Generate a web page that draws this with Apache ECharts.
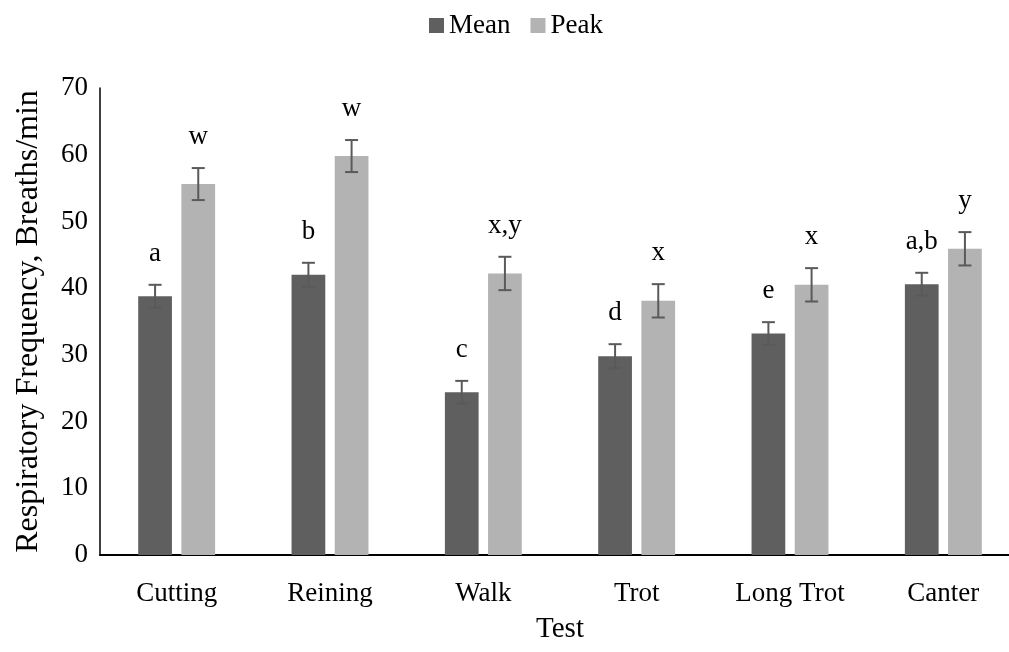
<!DOCTYPE html>
<html>
<head>
<meta charset="utf-8">
<script src="https://cdn.jsdelivr.net/npm/echarts@6/dist/echarts.min.js"></script>
<style>
html,body{margin:0;padding:0;background:#fff;}
#chart{width:1009px;height:652px;}
</style>
</head>
<body>
<div id="chart"></div>
<script>
const categories = ['Cutting', 'Reining', 'Walk', 'Trot', 'Long Trot', 'Canter'];
const meanValues = [38.8, 42.0, 24.4, 29.8, 33.2, 40.6];
const peakValues = [55.6, 59.8, 42.2, 38.1, 40.5, 45.9];
const meanErrors = [1.7, 1.8, 1.7, 1.8, 1.7, 1.7];
const peakErrors = [2.4, 2.4, 2.5, 2.5, 2.5, 2.5];
const meanLetters = ['a', 'b', 'c', 'd', 'e', 'a,b'];
const peakLetters = ['w', 'w', 'x,y', 'x', 'x', 'y'];
const yTicks = [0, 10, 20, 30, 40, 50, 60, 70];

const FONT = '"Liberation Serif", "Times New Roman", serif';
const MEAN_COLOR = '#5f5f5f';
const PEAK_COLOR = '#b3b3b3';
const BAR_W = 0.22, BAR_GAP = 0.28;

function errSeries(values, errors, letters, side) {
  return {
    type: 'custom',
    silent: true,
    z: 5,
    data: values.map((v, i) => [i, v, errors[i], letters[i]]),
    renderItem: function (params, api) {
      const idx = api.value(0), v = api.value(1), e = api.value(2);
      const bw = api.size([1, 0])[0];
      const off = side * (BAR_W * bw * (1 + BAR_GAP)) / 2;
      const top = api.coord([idx, v + e]);
      const bot = api.coord([idx, v - e]);
      const x = top[0] + off;
      const cap = 6.5;
      const st = { stroke: '#5a5a5a', lineWidth: 2 };
      return {
        type: 'group',
        children: [
          { type: 'line', shape: { x1: x, y1: top[1], x2: x, y2: bot[1] }, style: st },
          { type: 'line', shape: { x1: x - cap, y1: top[1], x2: x + cap, y2: top[1] }, style: st },
          { type: 'line', shape: { x1: x - cap, y1: bot[1], x2: x + cap, y2: bot[1] }, style: st },
          { type: 'text', x: x, y: top[1] - 31,
            style: { text: letters[idx], fill: '#000', font: '27px ' + FONT, align: 'center', verticalAlign: 'middle' } }
        ]
      };
    }
  };
}

const chart = echarts.init(document.getElementById('chart'), null, { renderer: 'canvas' });
chart.setOption({
  animation: false,
  backgroundColor: '#fff',
  textStyle: { fontFamily: FONT },
  legend: {
    top: 7,
    left: 424,
    itemWidth: 15,
    itemHeight: 15,
    itemGap: 20,
    icon: 'rect',
    textStyle: { fontFamily: FONT, fontSize: 27, color: '#000' },
    data: ['Mean', 'Peak']
  },
  grid: { left: 100, top: 88, height: 467, width: 920, containLabel: false, outerBoundsMode: 'none' },
  xAxis: {
    type: 'category',
    data: categories,
    name: 'Test',
    nameLocation: 'middle',
    nameGap: 60,
    nameTextStyle: { fontFamily: FONT, fontSize: 29, color: '#000' },
    axisLine: { lineStyle: { color: '#000', width: 2 } },
    axisTick: { show: false },
    axisLabel: { fontFamily: FONT, fontSize: 27, color: '#000', margin: 25 }
  },
  yAxis: {
    type: 'value',
    min: yTicks[0],
    max: yTicks[yTicks.length - 1],
    interval: 10,
    name: 'Respiratory Frequency, Breaths/min',
    nameLocation: 'middle',
    nameGap: 55,
    nameTextStyle: { fontFamily: FONT, fontSize: 32, color: '#000' },
    axisLine: { show: true, lineStyle: { color: '#000', width: 1.5 } },
    axisTick: { show: false },
    splitLine: { show: false },
    axisLabel: { fontFamily: FONT, fontSize: 27, color: '#000', margin: 12 }
  },
  series: [
    { name: 'Mean', type: 'bar', data: meanValues, barWidth: (BAR_W * 100) + '%', barGap: (BAR_GAP * 100) + '%',
      itemStyle: { color: MEAN_COLOR } },
    { name: 'Peak', type: 'bar', data: peakValues, barWidth: (BAR_W * 100) + '%', barGap: (BAR_GAP * 100) + '%',
      itemStyle: { color: PEAK_COLOR } },
    errSeries(meanValues, meanErrors, meanLetters, -1),
    errSeries(peakValues, peakErrors, peakLetters, 1)
  ]
});
</script>
</body>
</html>
